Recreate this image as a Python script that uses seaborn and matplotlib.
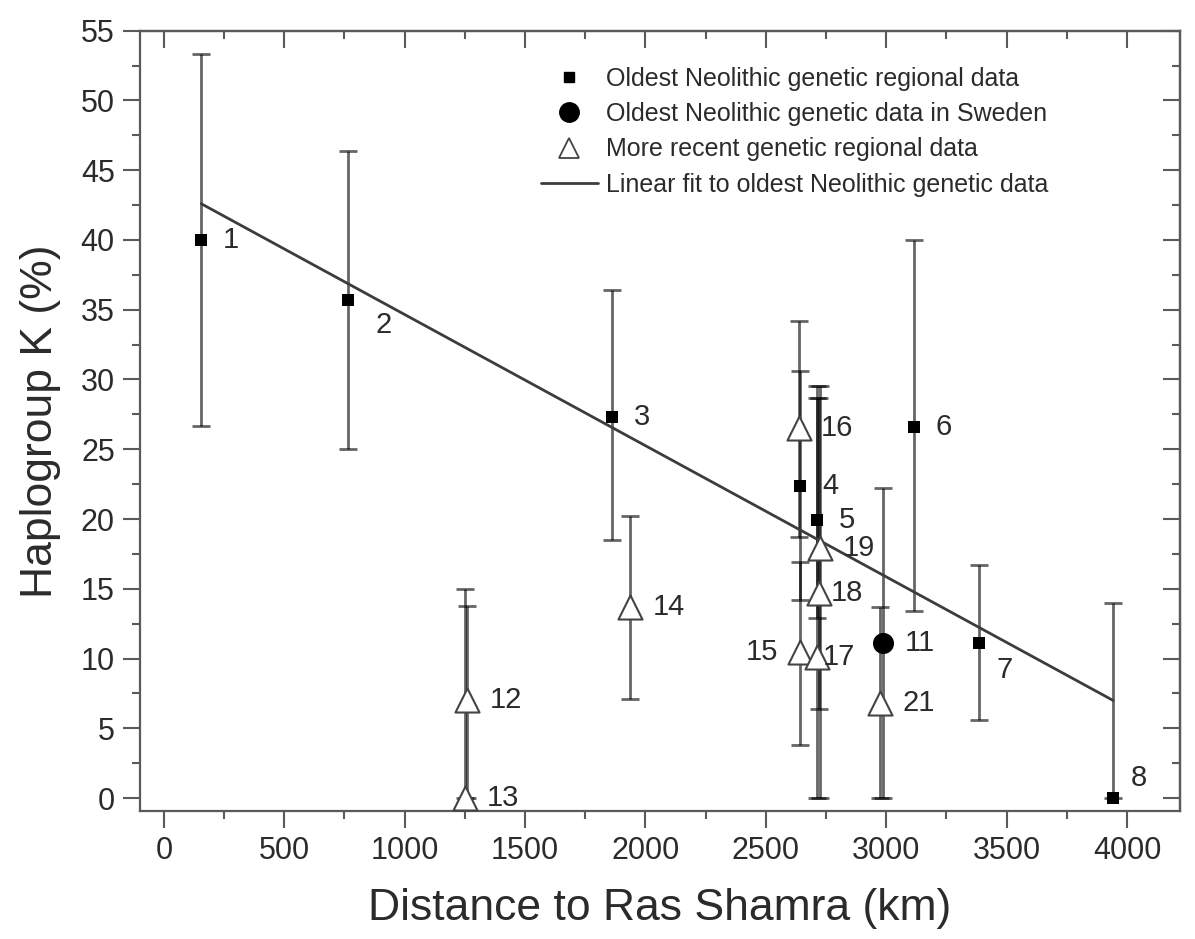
import numpy as np
import pandas as pd
import seaborn as sns
import matplotlib.pyplot as plt
from matplotlib.ticker import MultipleLocator
from matplotlib.lines import Line2D

# oldest Neolithic regional data (points 1-8)
oldest_ids = [1, 2, 3, 4, 5, 6, 7, 8]
oldest_dist = [155, 764, 1862, 2644, 2713, 3114, 3384, 3942]
oldest_k = [40.0, 35.7, 27.3, 22.4, 19.9, 26.6, 11.1, 0.0]
oldest_low = [26.7, 25.0, 18.5, 14.2, 12.9, 13.4, 5.6, 0.0]
oldest_high = [53.3, 46.4, 36.4, 30.6, 28.7, 40.0, 16.7, 14.0]

# oldest Neolithic data in Sweden (point 11)
sweden_ids = [11]
sweden_dist = [2985]
sweden_k = [11.1]
sweden_low = [0.0]
sweden_high = [22.2]

# more recent regional data
recent_ids = [12, 13, 14, 15, 16, 17, 18, 19, 21]
recent_dist = [1260, 1250, 1937, 2644, 2637, 2713, 2720, 2727, 2975]
recent_k = [7.0, 0.0, 13.7, 10.5, 26.5, 10.1, 14.7, 17.9, 6.8]
recent_low = [0.0, 0.0, 7.1, 3.8, 18.7, 0.0, 6.4, 0.0, 0.0]
recent_high = [13.8, 15.0, 20.2, 16.9, 34.2, 29.5, 28.7, 29.5, 13.7]

# linear fit end points
fit_dist = [155, 3942]
fit_k = [42.6, 7.0]

# label offsets in pixels (dx, dy, ha)
label_offsets = {2: (28, -25, "left"), 7: (18, -27, "left"), 8: (18, 20, "left"),
                 15: (-22, 0, "right"), 17: (6, 0, "left"), 18: (12, 0, "left")}

sns.set_theme(style="ticks")
plt.rcParams["font.family"] = ["Liberation Sans", "DejaVu Sans"]

GREY = "#5a5a5a"
TXT = "#2b2b2b"

fig = plt.figure(figsize=(11.95, 9.39), dpi=100)
ax = fig.add_axes([0.117, 0.1363, 0.8704, 0.831])


def err(ax, x, y, lo, hi):
    y = np.array(y)
    yerr = [y - np.array(lo), np.array(hi) - y]
    ax.errorbar(x, y, yerr=yerr, fmt="none", ecolor="black", elinewidth=2.0,
                capsize=6.5, capthick=2.0, alpha=0.6, zorder=2)


err(ax, oldest_dist, oldest_k, oldest_low, oldest_high)
err(ax, sweden_dist, sweden_k, sweden_low, sweden_high)
err(ax, recent_dist, recent_k, recent_low, recent_high)

fit = pd.DataFrame({"dist": fit_dist, "k": fit_k})
sns.lineplot(data=fit, x="dist", y="k", color="#3c3c3c", lw=2.0, ax=ax, zorder=3)

old = pd.DataFrame({"dist": oldest_dist, "k": oldest_k})
swe = pd.DataFrame({"dist": sweden_dist, "k": sweden_k})
rec = pd.DataFrame({"dist": recent_dist, "k": recent_k})
sns.scatterplot(data=rec, x="dist", y="k", marker="^", s=300, color="white",
                edgecolor="#444444", linewidth=1.5, ax=ax, zorder=4)
sns.scatterplot(data=old, x="dist", y="k", marker="s", s=70, color="black",
                edgecolor="black", linewidth=0, ax=ax, zorder=5)
sns.scatterplot(data=swe, x="dist", y="k", marker="o", s=230, color="black",
                edgecolor="black", linewidth=0, ax=ax, zorder=5)

# number labels
for ids, xs, ys in [(oldest_ids, oldest_dist, oldest_k),
                    (sweden_ids, sweden_dist, sweden_k),
                    (recent_ids, recent_dist, recent_k)]:
    for i, x, y in zip(ids, xs, ys):
        dx, dy, ha = label_offsets.get(i, (22, 0, "left"))
        ax.annotate(str(i), (x, y), xytext=(dx, dy), textcoords="offset pixels",
                    ha=ha, va="center", fontsize=21, color=TXT, zorder=6)

ax.set_xlim(-100, 4220)
ax.set_ylim(-0.93, 55)
ax.xaxis.set_major_locator(MultipleLocator(500))
ax.xaxis.set_minor_locator(MultipleLocator(250))
ax.yaxis.set_major_locator(MultipleLocator(5))
ax.yaxis.set_minor_locator(MultipleLocator(2.5))
ax.tick_params(which="both", direction="out", colors=GREY, labelcolor=TXT,
               labelsize=22, width=1.5)
ax.tick_params(which="major", length=12, pad=6)
ax.tick_params(which="minor", length=6)

for s in ax.spines.values():
    s.set_color(GREY)
    s.set_linewidth(1.6)

# mirrored ticks on top and right, pointing inward
top = ax.secondary_xaxis("top")
right = ax.secondary_yaxis("right")
for sec, axis in [(top, top.xaxis), (right, right.yaxis)]:
    axis.set_major_locator(MultipleLocator(500 if sec is top else 5))
    axis.set_minor_locator(MultipleLocator(250 if sec is top else 2.5))
    sec.tick_params(which="both", direction="in", colors=GREY, width=1.5,
                    labelleft=False, labelright=False, labeltop=False, labelbottom=False)
    sec.tick_params(which="major", length=12)
    sec.tick_params(which="minor", length=6)
    for s in sec.spines.values():
        s.set_color(GREY)
        s.set_linewidth(1.6)

ax.set_xlabel("Distance to Ras Shamra (km)", fontsize=32, color=TXT, labelpad=16)
ax.set_ylabel("Haplogroup K (%)", fontsize=32, color=TXT, labelpad=14)

handles = [
    Line2D([], [], ls="none", marker="s", ms=7, color="black"),
    Line2D([], [], ls="none", marker="o", ms=14, color="black"),
    Line2D([], [], ls="none", marker="^", ms=15, mfc="white", mec="#444444", mew=1.3),
    Line2D([], [], color="#3c3c3c", lw=2.0),
]
labels = ["Oldest Neolithic genetic regional data",
          "Oldest Neolithic genetic data in Sweden",
          "More recent genetic regional data",
          "Linear fit to oldest Neolithic genetic data"]
leg = ax.legend(handles, labels, loc="upper right", bbox_to_anchor=(0.89, 0.976),
                frameon=False, fontsize=18, handlelength=2.3, handletextpad=0.3,
                labelspacing=0.45, borderpad=0.2)
for t in leg.get_texts():
    t.set_color(TXT)

fig.savefig("out.png", dpi=100)
